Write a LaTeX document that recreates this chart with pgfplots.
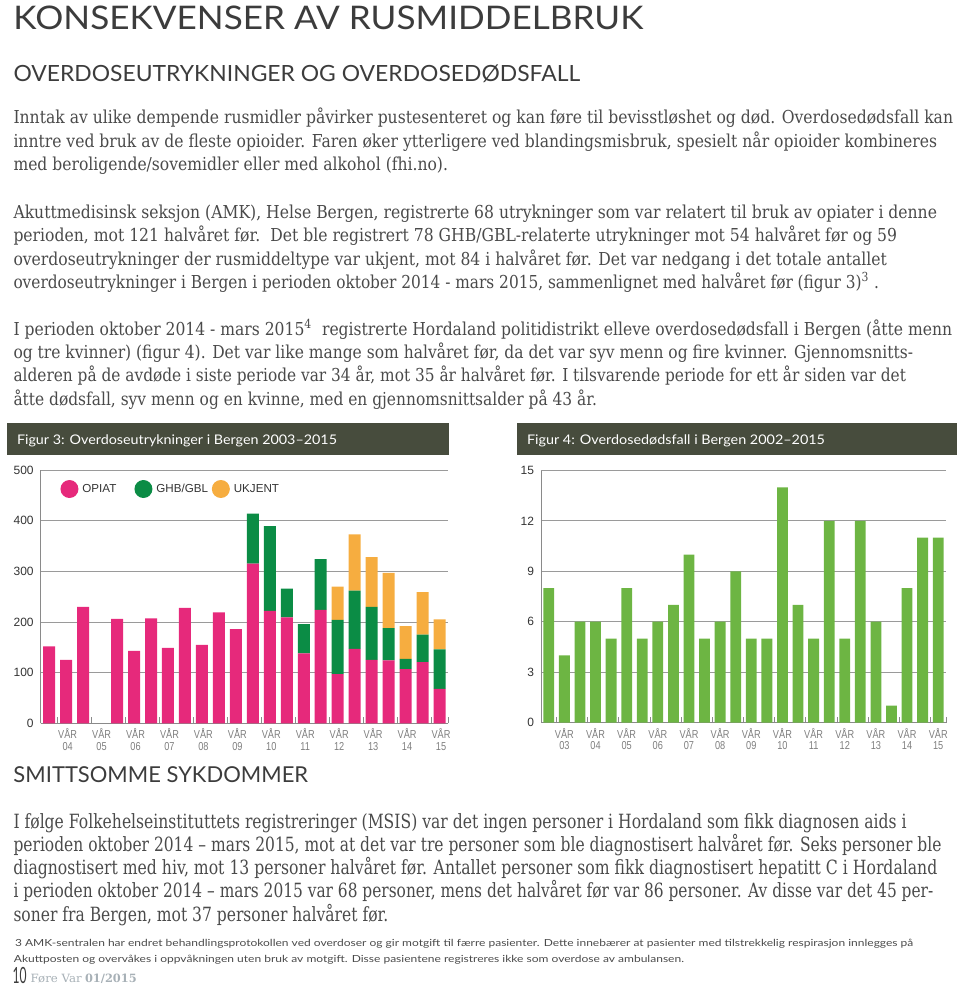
\documentclass[border=0pt]{standalone}
\usepackage{pgfplots}
\pgfplotsset{compat=1.18}
\usepackage{fontspec}
\setmainfont{DejaVu Serif}
\newfontfamily\hfont{Lato}
\newfontfamily\sfont{Liberation Sans}
\newfontfamily\narrowf{Liberation Sans}[FakeStretch=0.8]
\definecolor{pinkc}{HTML}{E6297B}
\definecolor{greenc}{HTML}{0B8C45}
\definecolor{orangec}{HTML}{F6AD40}
\definecolor{lgreen}{HTML}{6DB543}
\definecolor{boxc}{HTML}{474C3D}
\definecolor{textc}{HTML}{4A4A4A}
\definecolor{headc}{HTML}{3C3C3C}
\definecolor{gridc}{HTML}{9A9A9A}
\definecolor{axisc}{HTML}{8A8A8A}
\definecolor{ylabc}{HTML}{333333}
\definecolor{xlabc}{HTML}{7E7E7E}
\definecolor{legc}{HTML}{333333}
\definecolor{footc}{HTML}{A7B0B6}
% x, baseline y, width, cap height, font setup, text
\newcommand\tl[6]{\node[anchor=base west,inner sep=0pt,outer sep=0pt] at (#1pt,-#2pt)
  {\resizebox{#3pt}{#4pt}{#5\rule{0pt}{\fontcharht\font`H}\smash{#6}}};}
\newcommand\bodyf{\color{textc}\rmfamily}
\newcommand\headf{\color{headc}\hfont}
\begin{document}
\begin{tikzpicture}
% ---------- headings and text ----------
\tl{13.5}{29.3}{629.5}{23.3}{\headf}{KONSEKVENSER AV RUSMIDDELBRUK}
\tl{13.5}{81.7}{566.5}{16}{\headf}{OVERDOSEUTRYKNINGER OG OVERDOSEDØDSFALL}
\tl{13.5}{123.5}{939.5}{13}{\bodyf}{Inntak av ulike dempende rusmidler påvirker pustesenteret og kan føre til bevisstløshet og død. Overdosedødsfall kan}
\tl{13.5}{147}{923.5}{13}{\bodyf}{inntre ved bruk av de fleste opioider. Faren øker ytterligere ved blandingsmisbruk, spesielt når opioider kombineres}
\tl{13.5}{170.5}{434.5}{13}{\bodyf}{med beroligende/sovemidler eller med alkohol (fhi.no).}
\tl{13.5}{218.3}{923.5}{13}{\bodyf}{Akuttmedisinsk seksjon (AMK), Helse Bergen, registrerte 68 utrykninger som var relatert til bruk av opiater i denne}
\tl{13.5}{241.7}{883.5}{13}{\bodyf}{perioden, mot 121 halvåret før.\ \ Det ble registrert 78 GHB/GBL-relaterte utrykninger mot 54 halvåret før og 59}
\tl{13.5}{265}{873.5}{13}{\bodyf}{overdoseutrykninger der rusmiddeltype var ukjent, mot 84 i halvåret før. Det var nedgang i det totale antallet}
\tl{13.5}{288.3}{865.5}{13}{\bodyf}{overdoseutrykninger i Bergen i perioden oktober 2014 - mars 2015, sammenlignet med halvåret før (figur 3)\textsuperscript{3} .}
\tl{13.5}{335}{938.5}{13}{\bodyf}{I perioden oktober 2014 - mars 2015\textsuperscript{4}\ \ registrerte Hordaland politidistrikt elleve overdosedødsfall i Bergen (åtte menn}
\tl{13.5}{358.3}{899.5}{13}{\bodyf}{og tre kvinner) (figur 4). Det var like mange som halvåret før, da det var syv menn og fire kvinner. Gjennomsnitts-}
\tl{13.5}{381.7}{892.5}{13}{\bodyf}{alderen på de avdøde i siste periode var 34 år, mot 35 år halvåret før. I tilsvarende periode for ett år siden var det}
\tl{13.5}{405}{583.5}{13}{\bodyf}{åtte dødsfall, syv menn og en kvinne, med en gjennomsnittsalder på 43 år.}
% figure header boxes
\fill[boxc] (7pt,-423pt) rectangle (449pt,-455pt);
\fill[boxc] (517pt,-423pt) rectangle (957pt,-455pt);
\tl{17}{444}{320}{9.5}{\color{white}\hfont}{Figur 3: Overdoseutrykninger i Bergen 2003–2015}
\tl{527}{444}{298}{9.5}{\color{white}\hfont}{Figur 4: Overdosedødsfall i Bergen 2002–2015}
% lower section
\tl{13.5}{782.3}{294.5}{15.7}{\headf}{SMITTSOMME SYKDOMMER}
\tl{13.5}{828}{893}{14.3}{\bodyf}{I følge Folkehelseinstituttets registreringer (MSIS) var det ingen personer i Hordaland som fikk diagnosen aids i}
\tl{13.5}{851.3}{928}{14.3}{\bodyf}{perioden oktober 2014 – mars 2015, mot at det var tre personer som ble diagnostisert halvåret før. Seks personer ble}
\tl{13.5}{874.6}{923.8}{14.3}{\bodyf}{diagnostisert med hiv, mot 13 personer halvåret før. Antallet personer som fikk diagnostisert hepatitt C i Hordaland}
\tl{13.5}{897.9}{919.8}{14.3}{\bodyf}{i perioden oktober 2014 – mars 2015 var 68 personer, mens det halvåret før var 86 personer. Av disse var det 45 per-}
\tl{13.5}{921}{374.8}{14.3}{\bodyf}{soner fra Bergen, mot 37 personer halvåret før.}
\tl{15}{946.7}{898.3}{7}{\color{textc}\hfont}{3 AMK-sentralen har endret behandlingsprotokollen ved overdoser og gir motgift til færre pasienter. Dette innebærer at pasienter med tilstrekkelig respirasjon innlegges på}
\tl{14}{962.7}{670}{7}{\color{textc}\hfont}{Akuttposten og overvåkes i oppvåkningen uten bruk av motgift. Disse pasientene registreres ikke som overdose av ambulansen.}
\tl{12.7}{983.3}{14}{16}{\color{headc}\hfont}{10}
\tl{30.7}{982.3}{51}{8.3}{\color{footc}\rmfamily}{Føre Var}
\tl{85}{982.3}{51.7}{8.3}{\color{footc}\rmfamily\bfseries}{01/2015}
% ---------- Figure 3 ----------
\begin{axis}[
  at={(40.7pt,-723.3pt)}, anchor=south west,
  scale only axis, width=407.3pt, height=253.3pt,
  ybar stacked, bar width=12pt,
  xmin=-0.5, xmax=23.5, ymin=0, ymax=500,
  enlargelimits=false,
  ytick={0,100,200,300,400,500},
  xtick={1,3,5,7,9,11,13,15,17,19,21,23},
  xticklabels={{VÅR\\04},{VÅR\\05},{VÅR\\06},{VÅR\\07},{VÅR\\08},{VÅR\\09},{VÅR\\10},{VÅR\\11},{VÅR\\12},{VÅR\\13},{VÅR\\14},{VÅR\\15}},
  minor xtick={0.5,2.5,4.5,6.5,8.5,10.5,12.5,14.5,16.5,18.5,20.5,22.5,23.5},
  axis x line*=bottom, axis y line*=left,
  axis line style={draw=axisc, line width=0.9pt, -},
  ymajorgrids, grid style={draw=gridc, line width=0.9pt},
  major tick length=0pt, minor tick length=6pt, tick align=inside,
  minor tick style={draw=axisc, line width=0.8pt},
  /pgf/number format/assume math mode=true,
  yticklabel style={font=\sfont\fontsize{12}{12}\selectfont, text=ylabc, xshift=-3.5pt},
  xticklabel style={font=\narrowf\fontsize{11.5}{11.5}\selectfont, text=xlabc, align=center, yshift=-2pt, xshift=1.5pt},
  legend style={at={(0.048,0.925)}, anchor=west, draw=none, fill=none,
    inner sep=0pt, column sep=0pt, row sep=0pt, cells={anchor=west},
    nodes={inner sep=0pt, text=legc, font=\sfont\fontsize{11.6}{12}\selectfont}},
  legend columns=3,
]
\addplot[fill=pinkc, draw=none, legend image code/.code={\fill[pinkc] (9pt,0pt) circle (9pt);}] coordinates {
 (0,152) (1,125) (2,230) (3,0) (4,206) (5,143) (6,207) (7,149) (8,228) (9,155) (10,219) (11,186)
 (12,315) (13,222) (14,209) (15,138) (16,224) (17,97) (18,147) (19,125) (20,124) (21,107) (22,121) (23,68)};
\addlegendentry{\hspace{4pt}\makebox[52pt][l]{OPIAT}}
\addplot[fill=greenc, draw=none, legend image code/.code={\fill[greenc] (9pt,0pt) circle (9pt);}] coordinates {
 (0,0) (1,0) (2,0) (3,0) (4,0) (5,0) (6,0) (7,0) (8,0) (9,0) (10,0) (11,0)
 (12,99) (13,167) (14,57) (15,58) (16,100) (17,107) (18,115) (19,105) (20,64) (21,20) (22,54) (23,78)};
\addlegendentry{\hspace{4pt}\makebox[55.4pt][l]{GHB/GBL}}
\addplot[fill=orangec, draw=none, legend image code/.code={\fill[orangec] (9pt,0pt) circle (9pt);}] coordinates {
 (0,0) (1,0) (2,0) (3,0) (4,0) (5,0) (6,0) (7,0) (8,0) (9,0) (10,0) (11,0)
 (12,0) (13,0) (14,0) (15,0) (16,0) (17,66) (18,111) (19,98) (20,109) (21,65) (22,84) (23,59)};
\addlegendentry{\hspace{4pt}UKJENT}
\end{axis}
% ---------- Figure 4 ----------
\begin{axis}[
  at={(541pt,-722.5pt)}, anchor=south west,
  scale only axis, width=405pt, height=252pt,
  ybar, bar width=10.8pt, bar shift=0pt,
  xmin=-0.5, xmax=25.5, ymin=0, ymax=15,
  enlargelimits=false,
  ytick={0,3,6,9,12,15},
  xtick={1,3,5,7,9,11,13,15,17,19,21,23,25},
  xticklabels={{VÅR\\03},{VÅR\\04},{VÅR\\05},{VÅR\\06},{VÅR\\07},{VÅR\\08},{VÅR\\09},{VÅR\\10},{VÅR\\11},{VÅR\\12},{VÅR\\13},{VÅR\\14},{VÅR\\15}},
  minor xtick={0.5,2.5,4.5,6.5,8.5,10.5,12.5,14.5,16.5,18.5,20.5,22.5,24.5,25.5},
  axis x line*=bottom, axis y line*=left,
  axis line style={draw=axisc, line width=0.9pt, -},
  ymajorgrids, grid style={draw=gridc, line width=0.9pt},
  major tick length=0pt, minor tick length=6pt, tick align=inside,
  minor tick style={draw=axisc, line width=0.8pt},
  /pgf/number format/assume math mode=true,
  yticklabel style={font=\sfont\fontsize{12}{12}\selectfont, text=ylabc, xshift=-3.5pt},
  xticklabel style={font=\narrowf\fontsize{11.5}{11.5}\selectfont, text=xlabc, align=center, yshift=-2pt},
]
\addplot[fill=lgreen, draw=none] coordinates {
 (0,8) (1,4) (2,6) (3,6) (4,5) (5,8) (6,5) (7,6) (8,7) (9,10) (10,5) (11,6) (12,9)
 (13,5) (14,5) (15,14) (16,7) (17,5) (18,12) (19,5) (20,12) (21,6) (22,1) (23,8) (24,11) (25,11)};
\end{axis}
\pgfresetboundingbox
\useasboundingbox (0pt,0pt) rectangle (960pt,-988pt);
\end{tikzpicture}
\end{document}
